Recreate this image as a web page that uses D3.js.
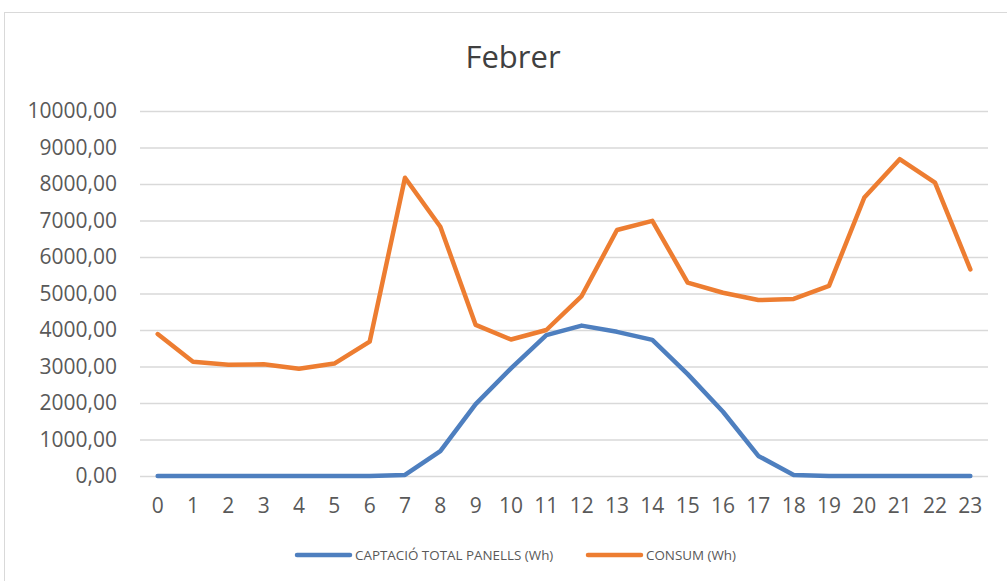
<!DOCTYPE html>
<html>
<head>
<meta charset="utf-8">
<script src="https://cdn.jsdelivr.net/npm/d3@7"></script>
<style>
  body { margin: 0; background: #fff; }
  svg { display: block; font-family: "Open Sans", sans-serif; }
</style>
</head>
<body>
<svg class="chart" width="1007" height="581"></svg>
<script>
// hours of the day
var hours = d3.range(0, 24);
var yTicks = [0, 1000, 2000, 3000, 4000, 5000, 6000, 7000, 8000, 9000, 10000];

// CAPTACIÓ TOTAL PANELLS (Wh)
var captacio = [0, 0, 0, 0, 0, 0, 0, 30, 680, 1970, 2950, 3860,
                4120, 3950, 3730, 2790, 1760, 550, 30, 0, 0, 0, 0, 0];
// CONSUM (Wh)
var consum = [3890, 3130, 3050, 3060, 2940, 3080, 3680, 8170, 6830, 4140, 3740, 4000,
              4930, 6740, 6990, 5300, 5020, 4820, 4850, 5210, 7630, 8680, 8040, 5660];

var seriesNames = ["CAPTACIÓ TOTAL PANELLS (Wh)", "CONSUM (Wh)"];
var colors = ["#4e7fbf", "#ed7d31"];

var width = 1007, height = 581;
var margin = {top: 111, right: 19, bottom: 105, left: 140};

var svg = d3.select(".chart");

// chart area border
svg.append("rect")
  .attr("x", 4.5).attr("y", 12.5)
  .attr("width", 1020).attr("height", 600)
  .attr("fill", "none").attr("stroke", "#d9d9d9");

var x = d3.scaleBand()
  .domain(hours)
  .range([margin.left, width - margin.right]);

var y = d3.scaleLinear()
  .domain([0, 10000])
  .range([height - margin.bottom, margin.top]);

// title
svg.append("text")
  .attr("x", 513).attr("y", 68)
  .attr("text-anchor", "middle")
  .attr("font-size", 31)
  .attr("fill", "#404040")
  .text("Febrer");

// gridlines + y labels
var yAxis = g => g
  .attr("transform", `translate(${margin.left},0)`)
  .call(d3.axisLeft(y).tickValues(yTicks)
    .tickSize(-(width - margin.left - margin.right))
    .tickPadding(23)
    .tickFormat(d => d3.format(".2f")(d).replace(".", ",")))
  .call(g => g.select(".domain").remove())
  .call(g => g.selectAll(".tick line").attr("stroke", "#d9d9d9").attr("stroke-width", 1.5))
  .call(g => g.selectAll(".tick text").attr("fill", "#595959").attr("font-size", 21)
    .attr("font-family", "Open Sans"));

svg.append("g").call(yAxis);

var xAxis = g => g
  .attr("transform", `translate(0,${height - margin.bottom})`)
  .call(d3.axisBottom(x).tickSize(0).tickPadding(22))
  .call(g => g.select(".domain").remove())
  .call(g => g.selectAll(".tick text").attr("fill", "#595959").attr("font-size", 21)
    .attr("font-family", "Open Sans"));

svg.append("g").call(xAxis);

var line = d3.line()
  .x((d, i) => x(hours[i]) + x.bandwidth() / 2)
  .y(d => y(d));

[captacio, consum].forEach(function(s, i) {
  svg.append("path")
    .datum(s)
    .attr("fill", "none")
    .attr("stroke", colors[i])
    .attr("stroke-width", 4.5)
    .attr("stroke-linejoin", "round")
    .attr("stroke-linecap", "round")
    .attr("d", line);
});

// legend
var legendX = [297, 588];
var legend = svg.append("g");
seriesNames.forEach(function(name, i) {
  legend.append("line")
    .attr("x1", legendX[i]).attr("x2", legendX[i] + 53)
    .attr("y1", 555).attr("y2", 555)
    .attr("stroke", colors[i]).attr("stroke-width", 4.5)
    .attr("stroke-linecap", "round");
  legend.append("text")
    .attr("x", legendX[i] + 58).attr("y", 560)
    .attr("font-size", 13.4)
    .attr("fill", "#595959")
    .text(name);
});
</script>
</body>
</html>
